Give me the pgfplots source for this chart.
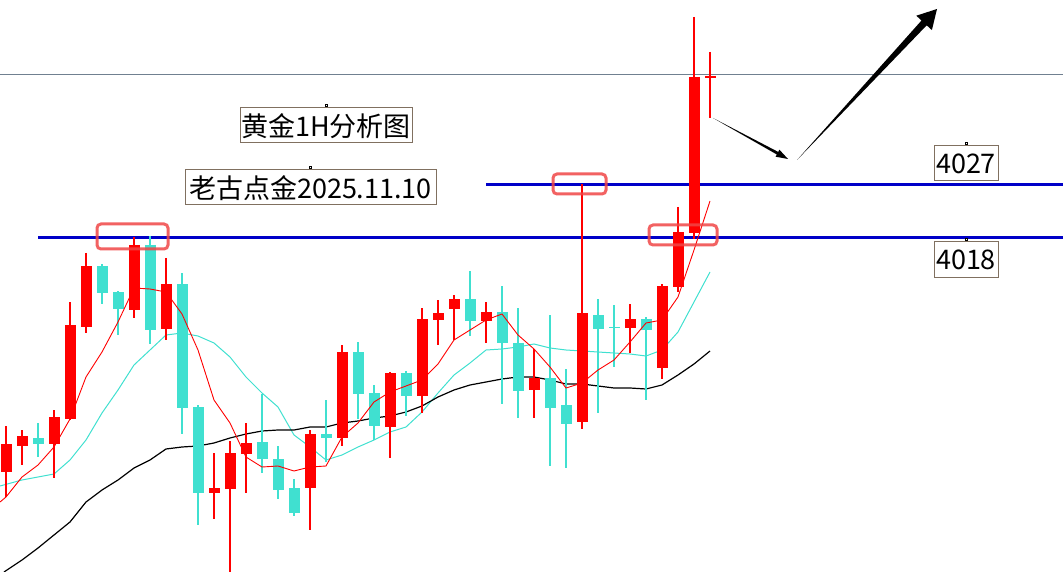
\documentclass[border=0pt]{standalone}
\usepackage{pgfplots}
\pgfplotsset{compat=1.18}
\usepackage{pgfplotstable}
\usepackage{fontspec}
\newfontfamily\cjk{Noto Sans CJK SC}
\definecolor{upc}{RGB}{255,0,0}
\definecolor{dnc}{RGB}{64,224,208}
\definecolor{lvl}{RGB}{0,0,200}
\definecolor{boxc}{RGB}{128,112,96}
\definecolor{hl}{RGB}{240,70,70}
\definecolor{gline}{RGB}{112,128,144}

% candles in pixel units (y grows downward): x, body top, body bottom, high, low
\pgfplotstableread{
x   top bot hi  lo
6   444 472 426 497
22  436 446 430 465
54  417 444 410 478
70  325 419 302 420
86  266 327 253 333
134 245 310 237 318
166 284 329 258 340
214 488 493 453 519
230 453 489 441 572
246 443 454 423 493
310 434 488 430 530
342 352 438 345 446
390 373 427 372 458
422 319 396 308 413
438 313 320 300 345
454 299 309 295 340
486 312 321 302 343
534 378 390 349 418
582 313 422 184 429
630 319 328 304 353
662 286 368 284 379
678 232 287 207 292
694 77  233 17  239
710 76  78  52  118
}\up
\pgfplotstableread{
x   top bot hi  lo
38  438 444 423 457
102 266 293 264 304
118 292 309 291 335
150 245 330 236 344
182 284 408 273 434
198 407 493 405 525
262 442 459 394 473
278 459 490 446 499
294 488 513 479 516
326 434 438 400 462
358 352 394 342 419
374 393 426 385 440
406 373 396 371 416
470 299 321 271 336
502 312 343 286 404
518 343 391 308 418
550 378 408 315 466
566 405 424 369 468
598 315 329 299 413
614 327 328 305 367
646 319 330 317 400
}\down

\begin{document}
\begin{tikzpicture}
\useasboundingbox (0,0) rectangle (1063pt,572pt);
\begin{axis}[
  at={(0pt,0pt)}, anchor=south west,
  width=1063pt, height=572pt, scale only axis,
  xmin=0, xmax=1063, ymin=0, ymax=572, y dir=reverse,
  hide axis, clip=false,
]
% reference lines
\addplot[gline, line width=1pt] coordinates {(0,75) (1063,75)};
\addplot[lvl, line width=3pt] coordinates {(486,185) (1063,185)};
\addplot[lvl, line width=3pt] coordinates {(38,237.5) (1063,237.5)};

% moving averages
\addplot[dnc, line width=1pt] coordinates {
(0,486)(22,480)(38,477)(54,474)(70,460)(86,440)(102,413)(118,390)(134,365)(150,350)(166,335)(182,333)(198,336)(214,343)(230,357)(246,377)(262,393)(278,407)(294,435)(310,447)(326,460)(342,455)(358,447)(374,440)(390,432)(406,427)(422,412)(438,393)(454,375)(470,363)(486,350)(502,349)(518,347)(534,344)(550,348)(566,350)(582,351)(598,352)(614,353)(630,354)(646,356)(662,350)(678,332)(694,302)(710,272)};
\addplot[black, line width=1.2pt] coordinates {
(4,572)(22,560)(38,548)(54,535)(70,522)(86,502)(102,490)(118,480)(134,468)(150,460)(166,449)(182,447)(198,446)(214,443)(230,438)(246,434)(262,431)(278,430)(294,430)(310,427)(326,427)(342,423)(358,421)(374,418)(390,416)(406,412)(422,406)(438,397)(454,390)(470,385)(486,382)(502,379)(518,377)(534,377)(550,380)(566,384)(582,384)(598,386)(614,388)(630,388)(646,389)(662,385)(678,375)(694,364)(710,351)};

% candles: wicks then bodies
\addplot[upc, line width=1.4pt, quiver={u=0, v=\thisrow{lo}-\thisrow{hi}}] table[x=x, y=hi] {\up};
\addplot[dnc, line width=1.4pt, quiver={u=0, v=\thisrow{lo}-\thisrow{hi}}] table[x=x, y=hi] {\down};
\addplot[upc, line width=11pt, quiver={u=0, v=\thisrow{bot}-\thisrow{top}}] table[x=x, y=top] {\up};
\addplot[dnc, line width=11pt, quiver={u=0, v=\thisrow{bot}-\thisrow{top}}] table[x=x, y=top] {\down};

\addplot[upc, line width=0.9pt] coordinates {
(0,502)(6,497)(22,477)(38,465)(54,447)(70,419)(86,377)(102,352)(118,322)(134,288)(150,289)(166,292)(182,314)(198,350)(214,400)(230,423)(246,457)(262,467)(278,466)(294,471)(310,467)(326,466)(342,437)(358,423)(374,402)(390,392)(406,386)(422,380)(438,364)(454,340)(470,330)(486,320)(502,314)(518,335)(534,349)(550,367)(566,388)(582,383)(598,370)(614,360)(630,342)(646,323)(662,320)(678,297)(694,250)(710,201)};

% highlight boxes
\draw[hl, opacity=0.85, line width=3pt, rounded corners=4pt] (axis cs:97,224) rectangle (axis cs:168,249);
\draw[hl, opacity=0.85, line width=3pt, rounded corners=4pt] (axis cs:553,174) rectangle (axis cs:606,194);
\draw[hl, opacity=0.85, line width=3pt, rounded corners=4pt] (axis cs:649,225) rectangle (axis cs:717,245);

% labels
\draw[boxc, line width=1pt] (axis cs:240,108) rectangle (axis cs:412,143);
\node[font=\cjk\fontsize{27}{27}\selectfont, inner sep=0pt] at (axis cs:326,126) {黄金1H分析图};
\draw[boxc, line width=1pt] (axis cs:185,170) rectangle (axis cs:436,205);
\node[font=\cjk\fontsize{27}{27}\selectfont, inner sep=0pt] at (axis cs:310.5,188) {老古点金2025.11.10};
\draw[boxc, line width=1pt] (axis cs:934,146) rectangle (axis cs:998,181);
\node[font=\cjk\fontsize{27}{27}\selectfont, inner sep=0pt] at (axis cs:966,164) {4027};
\draw[boxc, line width=1pt] (axis cs:934,242) rectangle (axis cs:998,277);
\node[font=\cjk\fontsize{27}{27}\selectfont, inner sep=0pt] at (axis cs:966,260) {4018};
\draw[black, line width=0.5pt] (axis cs:324.8,104.5) rectangle (axis cs:327.2,106.5);
\draw[black, line width=0.5pt] (axis cs:308.8,166.5) rectangle (axis cs:311.2,168.5);
\draw[black, line width=0.5pt] (axis cs:964.8,142.5) rectangle (axis cs:967.2,144.5);
\draw[black, line width=0.5pt] (axis cs:964.8,238.5) rectangle (axis cs:967.2,240.5);

% arrows
\fill[black] (axis cs:713,118) -- (axis cs:778.2,151.9) -- (axis cs:779.4,149.7) -- (axis cs:788,159) -- (axis cs:775.6,156.7) -- (axis cs:776.8,154.5) -- cycle;
\fill[black] (axis cs:797,160) -- (axis cs:921.5,20.5) -- (axis cs:916.3,15.7) -- (axis cs:937,9) -- (axis cs:931.9,30.1) -- (axis cs:926.7,25.3) -- cycle;
\end{axis}
\end{tikzpicture}
\end{document}
